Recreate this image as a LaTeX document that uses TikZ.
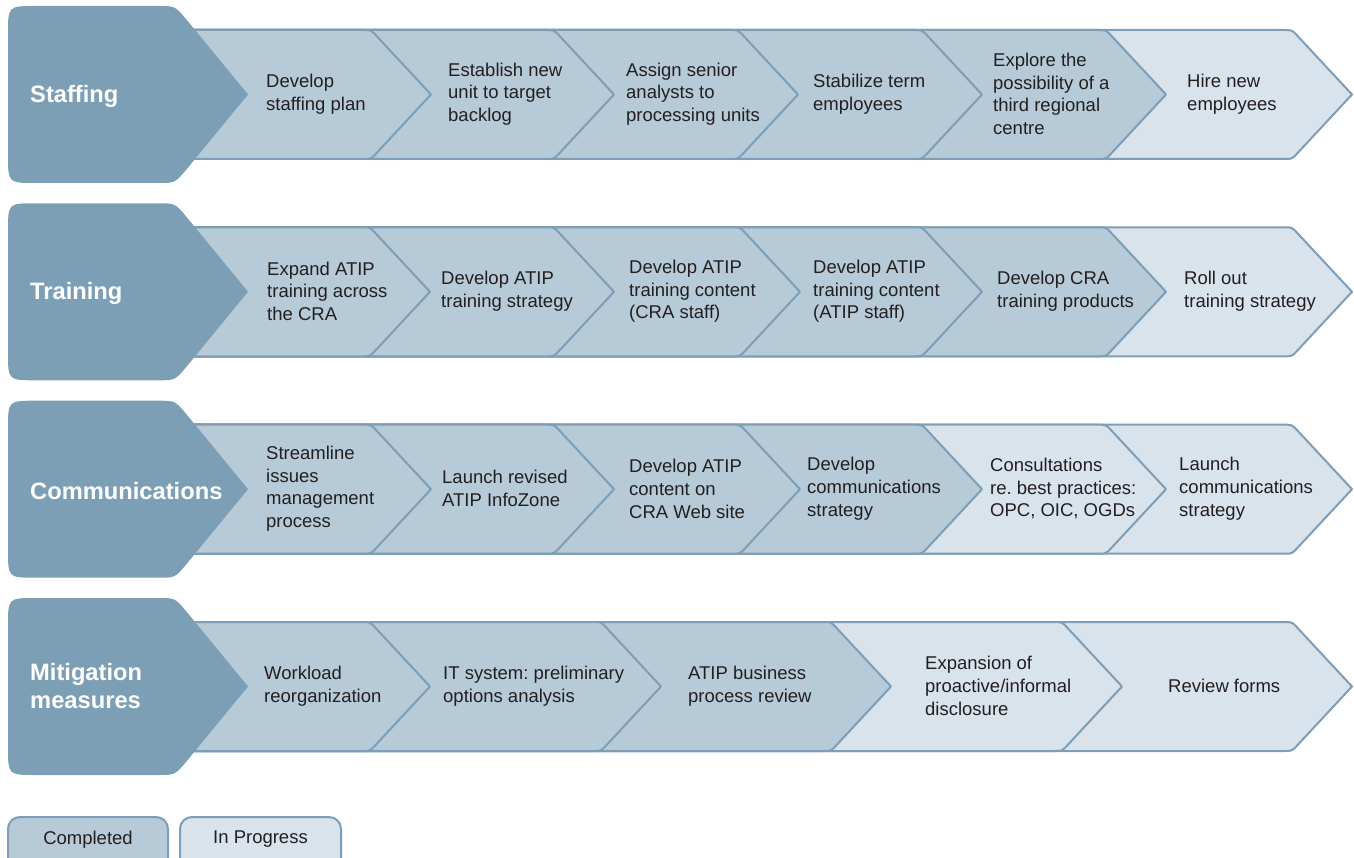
\documentclass[tikz,border=0pt]{standalone}
\usepackage{fontspec}
\setmainfont{Liberation Sans}
\frenchspacing
\definecolor{headblue}{RGB}{124,159,182}
\definecolor{donefill}{RGB}{182,202,215}
\definecolor{progfill}{RGB}{217,227,236}
\definecolor{lineblue}{RGB}{125,158,182}
\definecolor{txt}{RGB}{35,31,32}
\tikzset{
  chevline/.style={draw=lineblue, line width=2pt, line join=round},
  steptext/.style={anchor=west, align=left, inner sep=0pt, text=txt, font=\fontsize{18.5}{22.7}\selectfont},
  headtext/.style={anchor=west, align=left, inner sep=0pt, text=white, font=\bfseries\fontsize{23.7}{28}\selectfont},
  legbox/.style={draw=lineblue, line width=2pt, rounded corners=12pt},
  legtext/.style={inner sep=0pt, text=txt, font=\fontsize{18.5}{22.7}\selectfont},
}
% #1 tip x, #2 row centre y, #3 fill
\newcommand\mychev[3]{%
  \filldraw[chevline, fill=#3] (150,{#2-64.5}) -- ({#1-68},{#2-64.5})
    .. controls ({#1-60},{#2-64.5}) .. ({#1-54.55},{#2-58.64}) -- (#1,#2)
    -- ({#1-54.55},{#2+58.64}) .. controls ({#1-60},{#2+64.5}) .. ({#1-68},{#2+64.5})
    -- (150,{#2+64.5}) -- cycle;}
% #1 row centre y
\newcommand\myhead[1]{%
  \fill[headblue] (36,{#1-88.5}) -- (158,{#1-88.5})
    .. controls (175,{#1-88.5}) .. (186,{#1-75.5}) -- (248,#1)
    -- (186,{#1+75.5}) .. controls (175,{#1+88.5}) .. (158,{#1+88.5})
    -- (36,{#1+88.5}) .. controls (8,{#1+88.5}) .. (8,{#1+60.5})
    -- (8,{#1-60.5}) .. controls (8,{#1-88.5}) .. (36,{#1-88.5}) -- cycle;}
\begin{document}
\begin{tikzpicture}[x=1pt,y=-1pt]
\useasboundingbox (0,0) rectangle (1354,858);
\clip (0,0) rectangle (1354,858);

% ---------- Row 1: Staffing ----------
\def\ry{94.5}
\mychev{1352}{\ry}{progfill}
\mychev{1166}{\ry}{donefill}
\mychev{982}{\ry}{donefill}
\mychev{798}{\ry}{donefill}
\mychev{614}{\ry}{donefill}
\mychev{431}{\ry}{donefill}
\myhead{\ry}
\node[headtext] (h1) at (30,\ry+2) {Staffing};
\node[steptext] (s11) at (266,\ry-0.5) {Develop\\staffing plan};
\node[steptext] (s12) at (448,\ry-0.5) {Establish new\\unit to target\\backlog};
\node[steptext] (s13) at (626,\ry-0.5) {Assign senior\\analysts to\\processing units};
\node[steptext] (s14) at (813,\ry-0.5) {Stabilize term\\employees};
\node[steptext] (s15) at (993,\ry-0.5) {Explore the\\possibility of a\\third regional\\centre};
\node[steptext] (s16) at (1187,\ry-0.5) {Hire new\\employees};

% ---------- Row 2: Training ----------
\def\ry{291.8}
\mychev{1352}{\ry}{progfill}
\mychev{1166}{\ry}{donefill}
\mychev{982}{\ry}{donefill}
\mychev{800}{\ry}{donefill}
\mychev{614}{\ry}{donefill}
\mychev{430}{\ry}{donefill}
\myhead{\ry}
\node[headtext] (h2) at (30,\ry+2) {Training};
\node[steptext] (s21) at (267,\ry-0.5) {Expand ATIP\\training across\\the CRA};
\node[steptext] (s22) at (441,\ry-0.5) {Develop ATIP\\training strategy};
\node[steptext] (s23) at (629,\ry-0.5) {Develop ATIP\\training content\\(CRA staff)};
\node[steptext] (s24) at (813,\ry-0.5) {Develop ATIP\\training content\\(ATIP staff)};
\node[steptext] (s25) at (997,\ry-0.5) {Develop CRA\\training products};
\node[steptext] (s26) at (1184,\ry-0.5) {Roll out\\training strategy};

% ---------- Row 3: Communications ----------
\def\ry{489.2}
\mychev{1352}{\ry}{progfill}
\mychev{1166}{\ry}{progfill}
\mychev{982}{\ry}{donefill}
\mychev{800}{\ry}{donefill}
\mychev{614}{\ry}{donefill}
\mychev{431}{\ry}{donefill}
\myhead{\ry}
\node[headtext] (h3) at (30,\ry+2) {Communications};
\node[steptext] (s31) at (266,\ry-0.5) {Streamline\\issues\\management\\process};
\node[steptext] (s32) at (442,\ry-0.5) {Launch revised\\ATIP InfoZone};
\node[steptext] (s33) at (629,\ry-0.5) {Develop ATIP\\content on\\CRA Web site};
\node[steptext] (s34) at (807,\ry-0.5) {Develop\\communications\\strategy};
\node[steptext] (s35) at (990,\ry-0.5) {Consultations\\re. best practices:\\OPC, OIC, OGDs};
\node[steptext] (s36) at (1179,\ry-0.5) {Launch\\communications\\strategy};

% ---------- Row 4: Mitigation measures ----------
\def\ry{686.5}
\mychev{1352}{\ry}{progfill}
\mychev{1122}{\ry}{progfill}
\mychev{891}{\ry}{donefill}
\mychev{661}{\ry}{donefill}
\mychev{430}{\ry}{donefill}
\myhead{\ry}
\node[headtext] (h4) at (30,\ry-0.5) {Mitigation\\measures};
\node[steptext] (s41) at (264,\ry-0.5) {Workload\\reorganization};
\node[steptext] (s42) at (443,\ry-0.5) {IT system: preliminary\\options analysis};
\node[steptext] (s43) at (688,\ry-0.5) {ATIP business\\process review};
\node[steptext] (s44) at (925,\ry-0.5) {Expansion of\\proactive/informal\\disclosure};
\node[steptext] (s45) at (1168,\ry-0.5) {Review forms};

% ---------- Legend ----------
\filldraw[legbox, fill=donefill] (8,817) rectangle (168,875);
\filldraw[legbox, fill=progfill] (180,817) rectangle (341,875);
\node[legtext] (lg1) at (88,839.5) {Completed};
\node[legtext] (lg2) at (260.5,839.5) {In Progress};
\end{tikzpicture}
\end{document}
